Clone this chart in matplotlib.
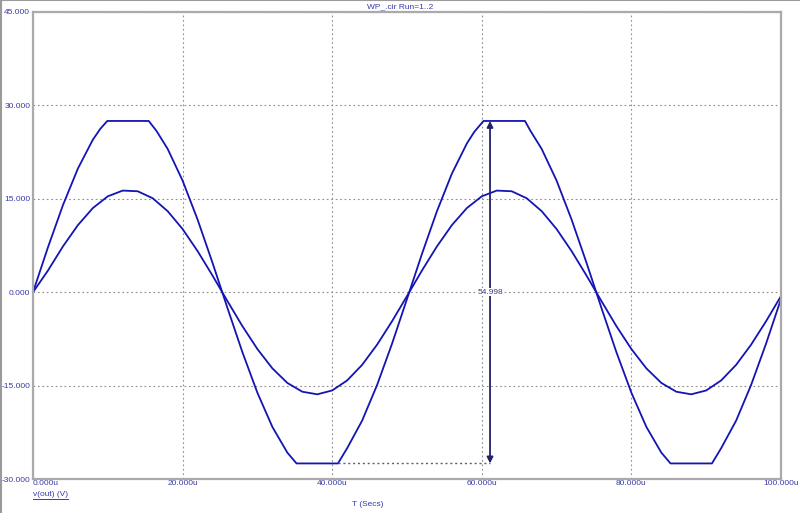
import numpy as np
import matplotlib
matplotlib.use('Agg')
import matplotlib.pyplot as plt
from matplotlib.lines import Line2D

plt.rcParams['font.family'] = ['Liberation Sans', 'DejaVu Sans']

# tiempo en microsegundos, Run 1
t_small = list(range(0, 101, 2))
v_small = [0.0, 3.48, 7.35, 10.77, 13.51, 15.40, 16.32, 16.21, 15.09, 13.02,
           10.14, 6.61, 2.67, -1.44, -5.46, -9.13, -12.23, -14.57, -15.98, -16.40,
           -15.78, -14.17, -11.67, -8.43, -4.67, -0.62,
           3.48, 7.35, 10.77, 13.51, 15.40, 16.32, 16.21, 15.09, 13.02,
           10.14, 6.61, 2.67, -1.44, -5.46, -9.13, -12.23, -14.57, -15.98, -16.40,
           -15.78, -14.17, -11.67, -8.43, -4.67, -0.62]

# Run 2, salida recortada
t_clip = [0, 2, 4, 6, 8, 9, 9.93, 15.47, 16.5, 18, 20, 22, 24, 26, 28, 30, 32, 34,
          35.23, 40.77, 42, 44, 46, 48, 50, 52, 54, 56, 58, 59, 60.23, 65.77, 66.5,
          68, 70, 72, 74, 76, 78, 80, 82, 84, 85.23, 90.77, 92, 94, 96, 98, 100]
v_clip = [0, 7.21, 13.97, 19.85, 24.49, 26.24, 27.5, 27.5, 25.92, 23.02, 17.92,
          11.68, 4.72, -2.55, -9.65, -16.15, -21.63, -25.76, -27.5, -27.5, -25.05,
          -20.63, -14.91, -8.27, -1.09, 6.15, 13.00, 19.04, 23.88, 25.76, 27.5, 27.5,
          25.92, 23.02, 17.92, 11.68, 4.72, -2.55, -9.65, -16.15, -21.63, -25.76,
          -27.5, -27.5, -25.05, -20.63, -14.91, -8.27, -1.09]

x_ticks = [0, 20, 40, 60, 80, 100]
x_labels = ['0.000u', '20.000u', '40.000u', '60.000u', '80.000u', '100.000u']
y_ticks = [-30, -15, 0, 15, 30, 45]
y_labels = ['-30.000', '-15.000', '0.000', '15.000', '30.000', '45.000']

# medida del cursor
t_cursor = 61.1
v_min = -27.5
v_max = 27.5
t_flat_end = 40.77
delta_text = '54.998'

txt_col = '#3a3aa8'
line_col = '#1414b4'
fs = 6

fig = plt.figure(figsize=(8, 5.13), dpi=100)
ax = fig.add_axes([33/800, 1 - 479/513, 748/800, 467/513])

ax.plot(t_small, v_small, color=line_col, lw=1.3)
ax.plot(t_clip, v_clip, color=line_col, lw=1.3)

ax.set_xlim(0, 100)
ax.set_ylim(-30, 45)
ax.set_xticks(x_ticks)
ax.set_xticklabels(x_labels)
ax.set_yticks(y_ticks)
ax.set_yticklabels(y_labels)
ax.tick_params(length=0, labelsize=fs, labelcolor=txt_col)
ax.tick_params(axis='x', pad=0.5)
ax.tick_params(axis='y', pad=2)
ax.get_xticklabels()[0].set_ha('left')
ax.grid(True, color='#8c8c8c', linestyle=(0, (1.5, 2.5)), lw=0.8)
for s in ax.spines.values():
    s.set_color('#aaaaaa')
    s.set_linewidth(1.6)

# cursor
ax.plot([t_flat_end, t_cursor], [v_min, v_min], color='#5a5a9a', lw=1.0,
        linestyle=(0, (1.5, 2)))
ax.annotate('', xy=(t_cursor, v_max), xytext=(t_cursor, v_min),
            arrowprops=dict(arrowstyle='<|-|>', color='#22226a', lw=1.3,
                            mutation_scale=9, shrinkA=0, shrinkB=0))
ax.text(t_cursor, 0, delta_text, fontsize=fs, color='#3a3a80', ha='center',
        va='center', bbox=dict(facecolor='white', edgecolor='none', pad=0.5))

fig.text(0.5, 1 - 6.5/513, 'WP_.cir Run=1..2', fontsize=fs, color=txt_col,
         ha='center', va='center')
lbl = fig.text(33/800, 1 - 495/513, 'v(out) (V)', fontsize=fs, color=txt_col,
               ha='left', va='center')
fig.text(368/800, 1 - 504.5/513, 'T (Secs)', fontsize=fs, color=txt_col,
         ha='center', va='center')

# subrayado de la etiqueta de la traza
fig.canvas.draw()
bb = lbl.get_window_extent().transformed(fig.transFigure.inverted())
fig.add_artist(Line2D([bb.x0, bb.x1], [1 - 498.5/513, 1 - 498.5/513],
                      color=txt_col, lw=0.7))

# bordes de la ventana
fig.add_artist(Line2D([0, 1], [0.9995, 0.9995], color='#9a9a9a', lw=1.5))
fig.add_artist(Line2D([0.0008, 0.0008], [0, 1], color='#9a9a9a', lw=1.5))

fig.savefig('out.png', dpi=100)
